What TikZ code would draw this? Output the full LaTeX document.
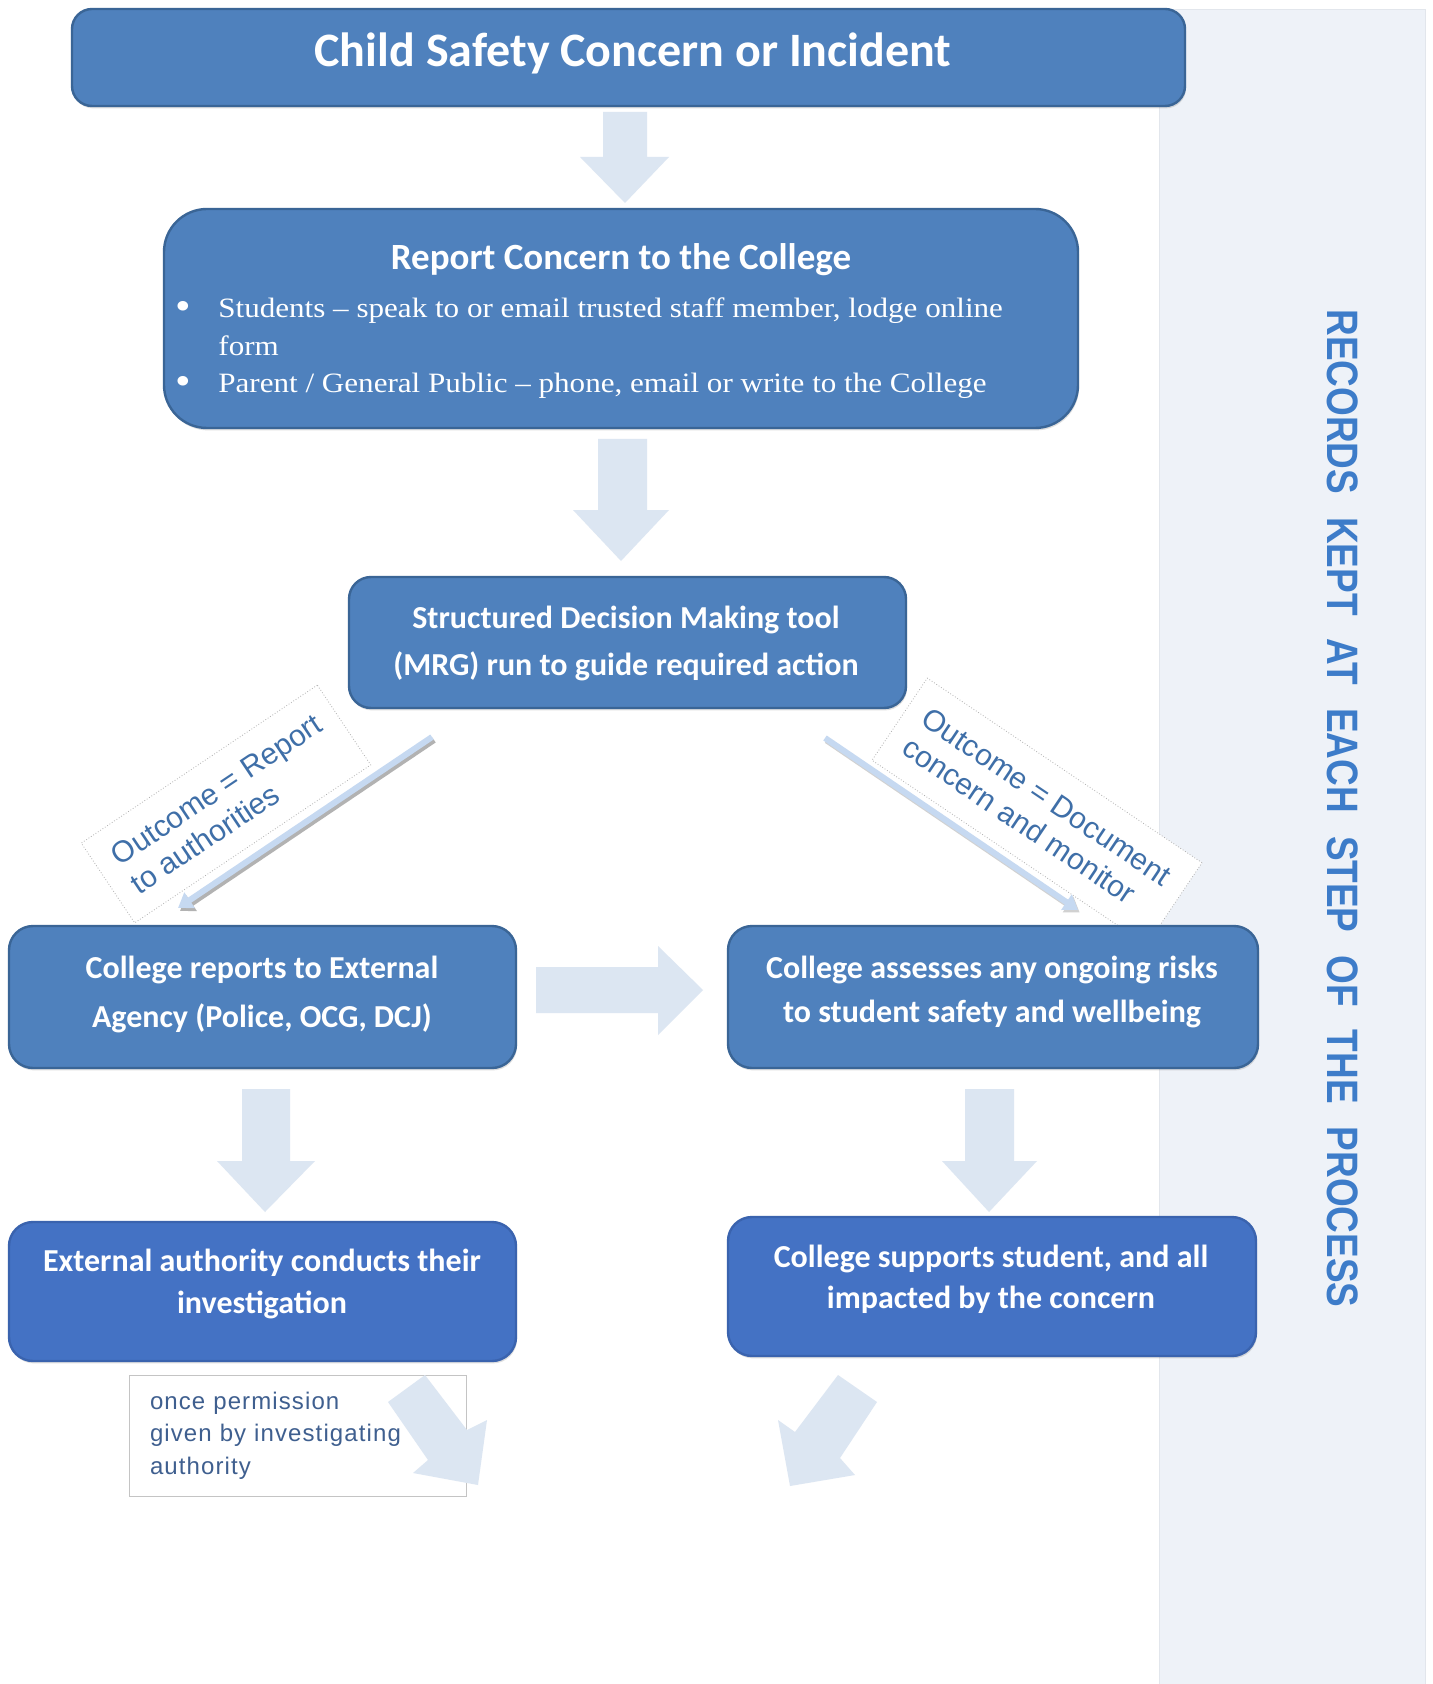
\documentclass[tikz,border=0pt]{standalone}
\usepackage{fontspec}
\setmainfont{Carlito}
\newfontfamily\serf[FakeStretch=1.11]{Liberation Serif}
\newfontfamily\arialf{Liberation Sans}
\newfontfamily\vertf[FakeStretch=0.84]{Liberation Sans}
\newfontfamily\notef[LetterSpace=4.6]{Liberation Sans}
\usetikzlibrary{shadows,arrows.meta}
\definecolor{boxblue}{HTML}{4F81BD}
\definecolor{boxline}{HTML}{3A6596}
\definecolor{boxbluetwo}{HTML}{4472C4}
\definecolor{boxlinetwo}{HTML}{3A63AE}
\definecolor{arrowfill}{HTML}{DCE6F2}
\definecolor{panelfill}{HTML}{EEF2F8}
\definecolor{panelline}{HTML}{E2E6EC}
\definecolor{thinfill}{HTML}{C6D9F1}
\definecolor{lbltext}{HTML}{3F6FA8}
\definecolor{lblline}{HTML}{B0B0B0}
\definecolor{verttext}{HTML}{3D7CC9}
\definecolor{notetext}{HTML}{3F5F8F}
\definecolor{noteline}{HTML}{C4C4C4}
\begin{document}
\begin{tikzpicture}[x=0.5pt,y=-0.5pt,
  box/.style={draw=boxline, line width=1.2pt, fill=boxblue, rounded corners=12pt, inner sep=0pt,
    drop shadow={shadow xshift=0.5pt, shadow yshift=-1.2pt, opacity=0.25}},
  boxb/.style={box, fill=boxbluetwo, draw=boxlinetwo},
  boxtext/.style={text=white, align=center, anchor=base, inner sep=0pt},
  blockarrow/.style={fill=arrowfill, draw=none},
  lbl/.style={draw=lblline, densely dotted, line width=0.4pt, fill=white, text=lbltext,
    font=\arialf\fontsize{15}{17.5}\selectfont, align=left, inner sep=0pt},
  thinarrow/.style={draw=thinfill, line width=3pt, -{Triangle[width=9pt,length=7pt]}},
  thinshadow/.style={draw=black!30, line width=3pt, -{Triangle[width=9pt,length=7pt]}},
  notebox/.style={draw=noteline, line width=0.5pt, fill=white, text=notetext,
    font=\notef\fontsize{12}{16.25}\selectfont, align=left, inner sep=0pt, text width=147.5pt}
]
\useasboundingbox (0,0) rectangle (1432,1684);
\fill[white] (0,0) rectangle (1432,1684);

% side panel
\draw[fill=panelfill, draw=panelline, line width=0.5pt] (1159,10) rectangle (1425,1690);
\node[rotate=-90, text=verttext, font=\vertf\bfseries\fontsize{22}{26}\selectfont, inner sep=0pt]
  (records) at (1343,808.5)
  {RECORDS\hspace{11.5pt}KEPT\hspace{11.5pt}AT\hspace{11.5pt}EACH\hspace{11.5pt}STEP\hspace{11.5pt}OF\hspace{11.5pt}THE\hspace{11.5pt}PROCESS};

% outcome labels
\node[lbl, rotate=33.8, minimum width=142pt, minimum height=48pt] (lblleft) at (226,804)
  {Outcome = Report\\to authorities};
\node[lbl, rotate=-33.9, minimum width=165.5pt, minimum height=49.5pt] (lblright) at (1037,811.5)
  {Outcome = Document\\concern and monitor};

% boxes
\node[box, rounded corners=10pt, minimum width=556.5pt, minimum height=48.5pt] (incident) at (628.5,57.5) {};
\node[boxtext, font=\bfseries\fontsize{24}{28}\selectfont] (incidenttext) at (633,67) {Child Safety Concern or Incident};

\node[box, rounded corners=21.5pt, minimum width=457pt, minimum height=109.5pt] (report) at (621,318.5) {};
\node[boxtext, font=\bfseries\fontsize{18.5}{22}\selectfont] (reporttitle) at (621,270) {Report Concern to the College};
\node[boxtext, font=\serf\fontsize{20}{20}\selectfont] (bulletone) at (183,320) {•};
\node[boxtext, font=\serf\fontsize{20}{20}\selectfont] (bullettwo) at (183,395) {•};
\node[boxtext, anchor=base west, font=\serf\fontsize{14}{17}\selectfont] (students) at (218,318)
  {Students – speak to or email trusted staff member, lodge online};
\node[boxtext, anchor=base west, font=\serf\fontsize{14}{17}\selectfont] (studentsform) at (218,356) {form};
\node[boxtext, anchor=base west, font=\serf\fontsize{14}{17}\selectfont] (parents) at (218,393)
  {Parent / General Public – phone, email or write to the College};

\node[box, rounded corners=11pt, minimum width=278.5pt, minimum height=65.5pt] (mrg) at (627.5,642.5) {};
\node[boxtext, font=\bfseries\fontsize{16}{23.5}\selectfont] (mrgtext) at (626,675)
  {Structured Decision Making tool\\(MRG) run to guide required action};

\node[box, minimum width=253.5pt, minimum height=71pt] (extrep) at (262.5,997) {};
\node[boxtext, font=\bfseries\fontsize{16}{24.5}\selectfont] (extreptext) at (262,1027)
  {College reports to External\\Agency (Police, OCG, DCJ)};

\node[box, minimum width=265pt, minimum height=71pt] (assess) at (993,997) {};
\node[boxtext, font=\bfseries\fontsize{16}{22}\selectfont] (assesstext) at (992,1022)
  {College assesses any ongoing risks\\to student safety and wellbeing};

\node[boxb, minimum width=253.5pt, minimum height=69.5pt] (extinv) at (262.5,1291.5) {};
\node[boxtext, font=\bfseries\fontsize{16}{21}\selectfont] (extinvtext) at (262,1313)
  {External authority conducts their\\investigation};

\node[boxb, minimum width=264pt, minimum height=69.5pt] (support) at (992,1286.5) {};
\node[boxtext, font=\bfseries\fontsize{16}{20.5}\selectfont] (supporttext) at (991,1308)
  {College supports student, and all\\impacted by the concern};

\node[notebox, minimum width=168.5pt, minimum height=60.5pt] (note) at (297.5,1435.5)
  {once permission\\given by investigating\\authority};

% block arrows
\fill[blockarrow] (603,112) -- (647,112) -- (647,157) -- (669,157) -- (625,203) -- (580,157) -- (603,157) -- cycle;
\fill[blockarrow] (598,439) -- (647,439) -- (647,510) -- (669,510) -- (621,561) -- (573,510) -- (598,510) -- cycle;
\fill[blockarrow] (536,967) -- (658,967) -- (658,946) -- (703,990) -- (658,1035) -- (658,1013) -- (536,1013) -- cycle;
\fill[blockarrow] (242,1089) -- (290,1089) -- (290,1161) -- (315,1161) -- (265,1212) -- (217,1161) -- (242,1161) -- cycle;
\fill[blockarrow] (965,1089) -- (1014,1089) -- (1014,1161) -- (1037,1161) -- (989,1212) -- (942,1161) -- (965,1161) -- cycle;
\fill[blockarrow] (425,1375) -- (467,1430) -- (487,1420) -- (478,1485) -- (413,1473) -- (428,1460) -- (388,1402) -- cycle;
\fill[blockarrow] (838,1375) -- (877,1402) -- (840,1458) -- (855,1475) -- (790,1486) -- (778,1420) -- (795,1432) -- cycle;

% thin diagonal arrows
\coordinate (lstart) at (432,737);
\coordinate (lend) at (178,908);
\coordinate (rstart) at (825,738);
\coordinate (rend) at (1078,910);
\draw[thinshadow] ([xshift=1pt,yshift=-1.5pt]lstart) -- ([xshift=1pt,yshift=-1.5pt]lend);
\draw[thinarrow] (lstart) -- (lend);
\draw[thinshadow, draw=black!18] ([xshift=0.8pt,yshift=-1.2pt]rstart) -- ([xshift=0.8pt,yshift=-1.2pt]rend);
\draw[thinarrow] (rstart) -- (rend);
\end{tikzpicture}
\end{document}
